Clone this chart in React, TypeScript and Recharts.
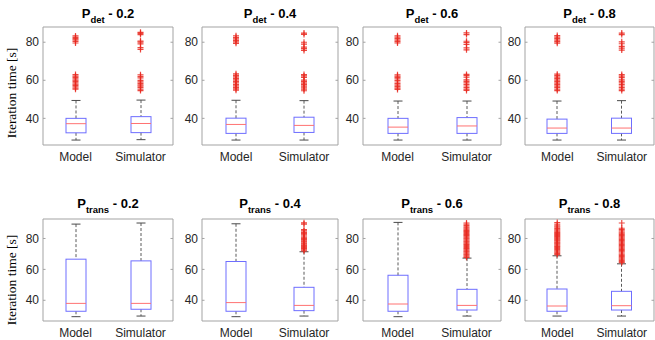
import React from 'react';
import { ComposedChart, Bar, Scatter, XAxis, YAxis } from 'recharts';

const categories = ['Model', 'Simulator'];
const yTicks = [40, 60, 80];
const probLabels = ['0.2', '0.4', '0.6', '0.8'];
const rowSubscripts = ['det', 'trans'];
const yAxisTitle = 'Iteration time [s]';

// [lower whisker, Q1, median, Q3, upper whisker]
const detModelStats = [
  [28.6, 32.4, 37.2, 40.0, 49.4],
  [28.6, 32.1, 36.8, 40.1, 49.5],
  [28.6, 32.1, 35.4, 40.0, 49.1],
  [28.6, 32.1, 34.9, 39.6, 49.1],
];
const detSimStats = [
  [28.8, 32.5, 37.3, 40.9, 49.6],
  [28.6, 32.6, 36.3, 40.6, 49.3],
  [28.6, 32.1, 36.0, 40.4, 49.1],
  [28.6, 32.1, 34.9, 40.1, 49.3],
];
const transModelStats = [
  [29.4, 32.9, 38.0, 66.6, 89.3],
  [29.4, 32.9, 38.5, 65.1, 89.5],
  [29.4, 32.9, 37.6, 56.2, 90.4],
  [29.8, 32.9, 36.3, 47.3, 68.8],
];
const transSimStats = [
  [29.8, 34.2, 38.0, 65.5, 90.0],
  [29.8, 33.3, 36.7, 48.4, 71.4],
  [29.8, 33.7, 36.7, 47.1, 67.3],
  [29.8, 33.7, 36.5, 45.8, 63.6],
];

const detModelOutliers = [
  [55.3, 55.9, 56.6, 57.3, 58.0, 58.7, 59.4, 60.1, 60.8, 61.5, 62.2, 63.0, 79.6, 80.4, 81.2, 81.9, 82.6, 83.3],
  [54.8, 55.5, 56.3, 57.1, 57.8, 58.6, 59.4, 60.2, 61.0, 61.8, 62.6, 63.4, 79.4, 80.2, 81.0, 81.8, 82.6, 83.4],
  [55.2, 55.9, 56.7, 57.5, 58.3, 59.1, 59.9, 60.7, 61.5, 62.2, 62.9, 79.6, 80.3, 81.1, 81.9, 82.7, 83.4],
  [54.6, 55.3, 56.1, 56.9, 57.7, 58.5, 59.3, 60.1, 60.9, 61.7, 62.5, 63.2, 79.5, 80.3, 81.1, 81.9, 82.7, 83.5],
];
const detSimOutliers = [
  [54.6, 55.3, 56.1, 56.9, 57.6, 58.4, 59.2, 60.0, 61.3, 62.1, 62.9, 76.2, 77.2, 79.1, 80.1, 80.6, 84.0, 84.7, 85.2],
  [54.5, 55.3, 56.0, 56.9, 57.7, 58.5, 59.3, 60.1, 61.5, 62.3, 63.0, 75.7, 76.6, 77.4, 79.0, 80.0, 84.1, 84.8],
  [54.7, 55.4, 56.2, 57.0, 57.8, 58.6, 59.4, 60.2, 61.6, 62.4, 63.1, 76.0, 77.0, 78.8, 79.8, 80.5, 84.0, 84.9],
  [54.6, 55.4, 56.2, 57.0, 57.8, 58.6, 59.4, 60.2, 61.4, 62.2, 63.0, 75.9, 76.9, 77.8, 79.2, 80.2, 84.0, 84.8],
];
const transModelOutliers = [
  [],
  [],
  [],
  [69.6, 70.4, 71.2, 72.0, 72.8, 73.5, 74.2, 74.9, 75.6, 76.3, 77.0, 77.7, 78.4, 79.0, 79.6, 80.2, 80.8, 81.4, 82.0, 82.6, 83.3, 84.0, 84.8, 85.6, 86.4, 87.3, 88.2, 89.2, 90.3],
];
const transSimOutliers = [
  [],
  [72.0, 72.7, 73.4, 74.1, 74.8, 75.5, 76.3, 77.0, 77.8, 78.5, 79.3, 80.0, 80.8, 81.6, 82.4, 83.2, 84.0, 84.9, 85.7, 89.3, 90.1],
  [67.8, 68.5, 69.2, 69.9, 70.6, 71.3, 72.0, 72.7, 73.4, 74.1, 74.8, 75.5, 76.2, 76.9, 77.6, 78.3, 79.0, 79.7, 80.4, 81.1, 81.8, 82.5, 83.2, 83.9, 84.6, 85.3, 86.0, 86.8, 87.6, 88.4, 89.2, 90.0],
  [64.4, 65.1, 65.8, 66.6, 67.4, 68.2, 69.0, 69.8, 70.6, 71.4, 72.2, 73.0, 73.8, 74.6, 75.4, 76.2, 77.0, 77.8, 78.6, 79.4, 80.2, 81.0, 81.8, 82.6, 83.4, 84.2, 85.0, 85.8, 86.6, 90.0],
];

const SANS = '"Liberation Sans", Arial, Helvetica, sans-serif';
const SERIF = '"Liberation Serif", "Times New Roman", Times, serif';
const YW = 34;
const XH = 26;
const TOPH = 1;
const RIGHTW = 1;
const RM = 3;
const FRAME = '#a3a3a3';
const TEXT = '#262626';

const colLefts = [43, 202, 363, 525];
const colWidths = [130, 136, 138, 129];
const rowLayout = [
  { top: 27, h: 118, domain: [26, 88] as [number, number], titleY: 17.5, labelY: 93 },
  { top: 219, h: 102, domain: [26.6, 92.6] as [number, number], titleY: 207.5, labelY: 280 },
];

const BoxShape = (props: any) => {
  const { x, y, width, height, payload } = props;
  if (payload == null || height == null) return null;
  const { lo, q1, med, q3, hi } = payload;
  const ppu = height / (q3 - q1);
  const py = (v: number) => y + (q3 - v) * ppu;
  const cx = x + width / 2;
  const cap = 4.5;
  return (
    <g>
      <line x1={cx} x2={cx} y1={py(hi)} y2={y} stroke="#5a5a5a" strokeDasharray="3 2" />
      <line x1={cx} x2={cx} y1={y + height} y2={py(lo)} stroke="#5a5a5a" strokeDasharray="3 2" />
      <line x1={cx - cap} x2={cx + cap} y1={py(hi)} y2={py(hi)} stroke="#4a4a4a" />
      <line x1={cx - cap} x2={cx + cap} y1={py(lo)} y2={py(lo)} stroke="#4a4a4a" />
      <rect x={x} y={y} width={width} height={height} fill="none" stroke="#6e6eff" strokeWidth={1} />
      <line x1={x} x2={x + width} y1={py(med)} y2={py(med)} stroke="#ff7272" strokeWidth={1} />
    </g>
  );
};

const PlusShape = (props: any) => {
  const { cx, cy } = props;
  if (cx == null || cy == null) return null;
  const s = 3;
  return (
    <path
      d={`M${cx - s},${cy}H${cx + s}M${cx},${cy - s}V${cy + s}`}
      stroke="#e8281f"
      strokeOpacity={0.85}
      strokeWidth={1.2}
      fill="none"
    />
  );
};

type PanelProps = {
  left: number;
  plotW: number;
  row: number;
  modelStats: number[];
  simStats: number[];
  modelOut: number[];
  simOut: number[];
};

function Panel({ left, plotW, row, modelStats, simStats, modelOut, simOut }: PanelProps) {
  const layout = rowLayout[row];
  const statsList = [modelStats, simStats];
  const data = categories.map((name, i) => {
    const [lo, q1, med, q3, hi] = statsList[i];
    return { name, lo, q1, med, q3, hi };
  });
  const outlierData = [
    ...modelOut.map((v) => ({ name: categories[0], v })),
    ...simOut.map((v) => ({ name: categories[1], v })),
  ];
  const W = YW + plotW + RIGHTW + RM;
  const H = TOPH + layout.h + XH;

  const YTick = (p: any) => {
    const { x, y, payload } = p;
    const pl = x + 4;
    return (
      <g>
        <text x={x} y={y} dy="0.35em" textAnchor="end" fontSize={12} fontFamily={SANS} fill={TEXT}>
          {payload.value}
        </text>
        <line x1={pl} x2={pl + 2.5} y1={y} y2={y} stroke={FRAME} />
        <line x1={pl + plotW} x2={pl + plotW - 2.5} y1={y} y2={y} stroke={FRAME} />
      </g>
    );
  };
  const XTick = (p: any) => {
    const { x, y, payload } = p;
    return (
      <text x={x} y={y} dy="0.71em" textAnchor="middle" fontSize={12} fontFamily={SANS} fill={TEXT}>
        {payload.value}
      </text>
    );
  };

  return (
    <div style={{ position: 'absolute', left: left - YW, top: layout.top - TOPH, width: W, height: H }}>
      <ComposedChart width={W} height={H} data={data} margin={{ top: 0, right: RM, bottom: 0, left: 0 }}>
        <XAxis
          dataKey="name"
          type="category"
          allowDuplicatedCategory={false}
          height={XH}
          axisLine={{ stroke: FRAME }}
          tickLine={false}
          tickSize={0}
          tickMargin={7}
          tick={XTick}
          interval={0}
        />
        <XAxis
          xAxisId="top"
          orientation="top"
          dataKey="name"
          type="category"
          allowDuplicatedCategory={false}
          height={TOPH}
          axisLine={{ stroke: FRAME }}
          tickLine={false}
          tick={false}
        />
        <YAxis
          type="number"
          domain={layout.domain}
          ticks={yTicks}
          width={YW}
          axisLine={{ stroke: FRAME }}
          tickLine={false}
          tickSize={0}
          tickMargin={4}
          tick={YTick}
          allowDataOverflow
        />
        <YAxis
          yAxisId="right"
          orientation="right"
          type="number"
          domain={layout.domain}
          width={RIGHTW}
          axisLine={{ stroke: FRAME }}
          tickLine={false}
          tick={false}
          allowDataOverflow
        />
        <Bar
          dataKey={(d: any) => [d.q1, d.q3]}
          barSize={20}
          shape={BoxShape}
          isAnimationActive={false}
        />
        <Scatter data={outlierData} dataKey="v" shape={PlusShape} isAnimationActive={false} />
      </ComposedChart>
    </div>
  );
}

export default function App() {
  const rowsData = [
    { model: detModelStats, sim: detSimStats, mOut: detModelOutliers, sOut: detSimOutliers },
    { model: transModelStats, sim: transSimStats, mOut: transModelOutliers, sOut: transSimOutliers },
  ];
  return (
    <div
      style={{
        position: 'absolute',
        left: 0,
        top: 0,
        width: 655,
        height: 340,
        overflow: 'hidden',
        background: '#ffffff',
      }}
    >
      {rowsData.map((r, row) =>
        probLabels.map((_, c) => (
          <Panel
            key={`${row}-${c}`}
            left={colLefts[c]}
            plotW={colWidths[c]}
            row={row}
            modelStats={r.model[c]}
            simStats={r.sim[c]}
            modelOut={r.mOut[c]}
            simOut={r.sOut[c]}
          />
        ))
      )}
      <svg
        width={655}
        height={340}
        style={{ position: 'absolute', left: 0, top: 0, pointerEvents: 'none' }}
      >
        {rowLayout.map((layout, row) =>
          probLabels.map((p, c) => (
            <text
              key={`t-${row}-${c}`}
              x={colLefts[c] + colWidths[c] / 2}
              y={layout.titleY}
              textAnchor="middle"
              fontFamily={SANS}
              fontWeight="bold"
              fontSize={13}
              fill="#000"
            >
              <tspan>P</tspan>
              <tspan dy={5.5} fontSize={9.5}>
                {rowSubscripts[row]}
              </tspan>
              <tspan dy={-5.5}>{` - ${p}`}</tspan>
            </text>
          ))
        )}
        {rowLayout.map((layout, row) => (
          <text
            key={`yl-${row}`}
            x={16}
            y={layout.labelY}
            textAnchor="middle"
            fontFamily={SERIF}
            fontSize={13.5}
            fill="#000"
            transform={`rotate(-90, 16, ${layout.labelY})`}
          >
            {yAxisTitle}
          </text>
        ))}
      </svg>
    </div>
  );
}
